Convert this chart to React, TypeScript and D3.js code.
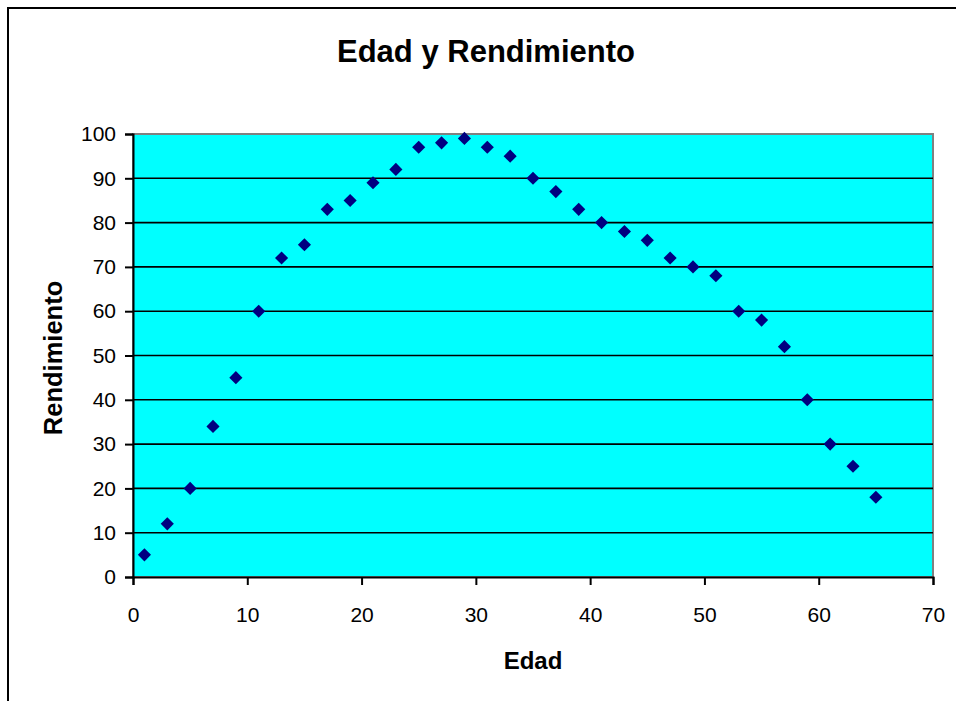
import React, { useEffect, useRef } from "react";
import * as d3 from "d3";

// Edad (x) y Rendimiento (y)
const edad = [1, 3, 5, 7, 9, 11, 13, 15, 17, 19, 21, 23, 25, 27, 29, 31, 33,
    35, 37, 39, 41, 43, 45, 47, 49, 51, 53, 55, 57, 59, 61, 63, 65];
const rendimiento = [5, 12, 20, 34, 45, 60, 72, 75, 83, 85, 89, 92, 97, 98, 99,
    97, 95, 90, 87, 83, 80, 78, 76, 72, 70, 68, 60, 58, 52, 40, 30, 25, 18];
const xTicks = [0, 10, 20, 30, 40, 50, 60, 70];
const yTicks = [0, 10, 20, 30, 40, 50, 60, 70, 80, 90, 100];

const title = "Edad y Rendimiento";
const xLabel = "Edad";
const yLabel = "Rendimiento";

const App: React.FC = () => {
    const svgRef = useRef<SVGSVGElement>(null);

    useEffect(() => {
        if (!svgRef.current) return;
        const width = 956;
        const height = 701;

        const plotLeft = 133;
        const plotRight = 933;
        const plotTop = 134;
        const plotBottom = 577;

        const font = "'Liberation Sans', Arial, sans-serif";

        const x = d3.scaleLinear().domain([0, 70]).range([plotLeft, plotRight]);
        const y = d3.scaleLinear().domain([0, 100]).range([plotBottom, plotTop]);

        const svg = d3.select(svgRef.current)
            .attr("width", width)
            .attr("height", height)
            .attr("viewBox", [0, 0, width, height]);

        svg.selectAll("*").remove();

        svg.append("rect")
            .attr("width", width)
            .attr("height", height)
            .attr("fill", "#fff");

        // chart border (runs off the right/bottom edge)
        svg.append("rect")
            .attr("x", 8)
            .attr("y", 8)
            .attr("width", 960)
            .attr("height", 710)
            .attr("fill", "none")
            .attr("stroke", "#000")
            .attr("stroke-width", 2);

        // plot area
        svg.append("rect")
            .attr("x", plotLeft)
            .attr("y", plotTop)
            .attr("width", plotRight - plotLeft)
            .attr("height", plotBottom - plotTop)
            .attr("fill", "#00ffff")
            .attr("stroke", "#808080")
            .attr("stroke-width", 2);

        // gridlines
        svg.append("g")
            .selectAll("line")
            .data(yTicks.filter((t) => t > 0 && t < 100))
            .join("line")
            .attr("x1", plotLeft)
            .attr("x2", plotRight)
            .attr("y1", (d) => y(d))
            .attr("y2", (d) => y(d))
            .attr("stroke", "#000")
            .attr("stroke-width", 1.6);

        // y axis
        const yAxis = svg.append("g")
            .attr("transform", `translate(${plotLeft},0)`)
            .call(d3.axisLeft(y).tickValues(yTicks).tickSize(8).tickPadding(9));
        yAxis.select(".domain").attr("stroke", "#000").attr("stroke-width", 2);
        yAxis.selectAll(".tick line").attr("stroke", "#000").attr("stroke-width", 2);
        yAxis.selectAll(".tick text")
            .attr("font-family", font)
            .attr("font-size", 21)
            .attr("fill", "#000");

        // x axis
        const xAxis = svg.append("g")
            .attr("transform", `translate(0,${plotBottom})`)
            .call(d3.axisBottom(x).tickValues(xTicks).tickSize(8).tickPadding(22));
        xAxis.select(".domain").attr("stroke", "#000").attr("stroke-width", 2);
        xAxis.selectAll(".tick line").attr("stroke", "#000").attr("stroke-width", 2);
        xAxis.selectAll(".tick text")
            .attr("font-family", font)
            .attr("font-size", 21)
            .attr("fill", "#000");

        // markers
        const points = edad.map((e, i) => ({ e, r: rendimiento[i] }));
        svg.append("g")
            .selectAll("path")
            .data(points)
            .join("path")
            .attr("transform", (d) => `translate(${x(d.e)},${y(d.r)})`)
            .attr("d", d3.symbol(d3.symbolDiamond2, 110)())
            .attr("fill", "#000080");

        svg.append("text")
            .attr("x", 486)
            .attr("y", 62)
            .attr("text-anchor", "middle")
            .attr("font-family", font)
            .attr("font-weight", "bold")
            .attr("font-size", 31)
            .text(title);

        svg.append("text")
            .attr("x", (plotLeft + plotRight) / 2)
            .attr("y", 669)
            .attr("text-anchor", "middle")
            .attr("font-family", font)
            .attr("font-weight", "bold")
            .attr("font-size", 24)
            .text(xLabel);

        svg.append("text")
            .attr("transform", "translate(62,358) rotate(-90)")
            .attr("text-anchor", "middle")
            .attr("font-family", font)
            .attr("font-weight", "bold")
            .attr("font-size", 25.5)
            .text(yLabel);
    }, []);

    return (
        <svg
            ref={svgRef}
            style={{ position: "absolute", left: 0, top: 0, display: "block" }}
        />
    );
};

export default App;
